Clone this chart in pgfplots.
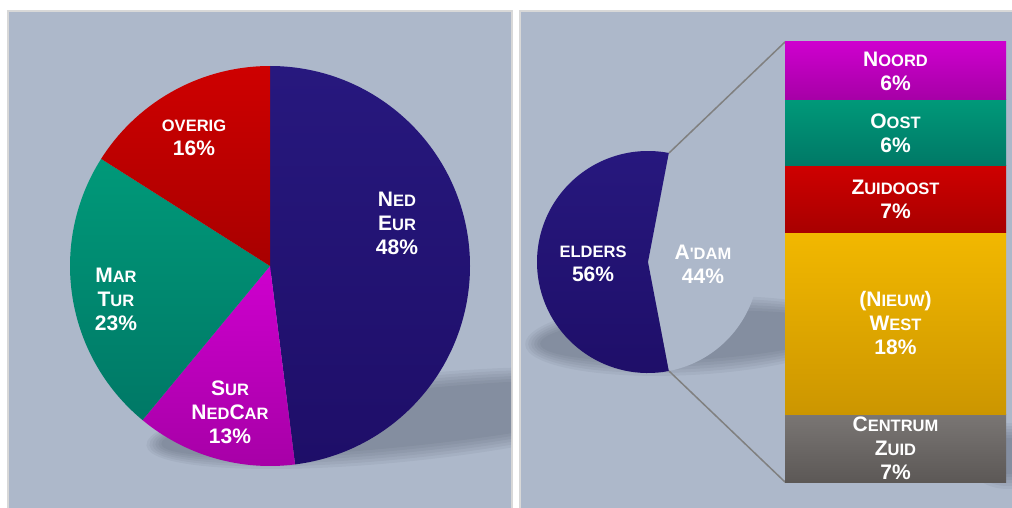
\documentclass[border=0pt]{standalone}
\usepackage{fontspec}
\setmainfont{Liberation Sans}
\usepackage{pgfplots}
\pgfplotsset{compat=1.18}

\definecolor{bg}{RGB}{173,184,202}
\definecolor{panelframe}{RGB}{216,216,216}
\definecolor{shadowc}{RGB}{60,68,82}
\definecolor{conn}{RGB}{128,128,128}
\definecolor{navyT}{RGB}{39,24,126}
\definecolor{navyB}{RGB}{30,14,104}
\definecolor{magT}{RGB}{206,0,206}
\definecolor{magB}{RGB}{166,0,166}
\definecolor{tealT}{RGB}{0,153,121}
\definecolor{tealB}{RGB}{0,120,102}
\definecolor{redT}{RGB}{206,0,0}
\definecolor{redB}{RGB}{168,0,0}
\definecolor{yelT}{RGB}{242,184,0}
\definecolor{yelB}{RGB}{204,150,0}
\definecolor{gryT}{RGB}{122,118,116}
\definecolor{gryB}{RGB}{92,88,86}

% small caps faked with a smaller size
\newcommand\smc[1]{{\fontsize{16.5}{24}\selectfont #1}}
% pie slice: base angle, cumulative %, value %, top colour, bottom colour, radius
\newcommand\slice[6]{\shade[top color=#4,bottom color=#5] (0,0) -- ({cos(#1-3.6*#2)},{sin(#1-3.6*#2)})
  arc[start angle={#1-3.6*#2}, end angle={#1-3.6*(#2+#3)}, radius=#6] -- cycle;}
% soft shadow: centre x, centre y (image px), x radius, y radius, rotation
\newcommand\softshadow[5]{\begin{scope}[shift={(#1pt,-#2pt)}, rotate=#5]
  \foreach \k in {0,...,5}
    \fill[shadowc, fill opacity=0.067] (0,0) ellipse [x radius={#3pt+3pt*\k}, y radius={#4pt+3pt*\k}];
  \end{scope}}

\tikzset{lbl/.style={text=white, align=center, inner sep=0pt,
  font=\fontsize{21}{24}\selectfont\bfseries}}

\begin{document}
\begin{tikzpicture}
\useasboundingbox (0,0) rectangle (1012pt,-508pt);
\fill[white] (0,0) rectangle (1012pt,-508pt);
\fill[bg, draw=panelframe, line width=2pt] (8pt,-11pt) rectangle (512pt,-512pt);
\fill[bg, draw=panelframe, line width=2pt] (520pt,-11pt) rectangle (1016pt,-512pt);

% shadows
\begin{scope}
  \clip (9pt,-12pt) rectangle (511pt,-508pt);
  \softshadow{410}{418}{250}{28}{6}
\end{scope}
\begin{scope}
  \clip (521pt,-12pt) rectangle (1012pt,-508pt);
  \softshadow{690}{336}{150}{24}{3}
  \softshadow{1008}{456}{28}{18}{0}
\end{scope}

% left pie
\begin{axis}[at={(270pt,-266pt)}, anchor=origin, scale only axis,
  width=400pt, height=400pt, xmin=-1, xmax=1, ymin=-1, ymax=1,
  hide axis, clip=false]
  \slice{90}{0}{48}{navyT}{navyB}{200pt}
  \slice{90}{48}{13}{magT}{magB}{200pt}
  \slice{90}{61}{23}{tealT}{tealB}{200pt}
  \slice{90}{84}{16}{redT}{redB}{200pt}
  \node[lbl] at (0.635,0.215) {N\smc{ED}\\E\smc{UR}\\48\%};
  \node[lbl] at (-0.38,0.64) {\smc{OVERIG}\\16\%};
  \node[lbl] at (-0.77,-0.165) {M\smc{AR}\\T\smc{UR}\\23\%};
  \node[lbl] at (-0.2,-0.73) {S\smc{UR}\\N\smc{ED}C\smc{AR}\\13\%};
\end{axis}

% right pie
\begin{axis}[at={(648pt,-262pt)}, anchor=origin, scale only axis,
  width=222pt, height=222pt, xmin=-1, xmax=1, ymin=-1, ymax=1,
  hide axis, clip=false]
  \slice{79.2}{0}{44}{bg}{bg}{111pt}
  \slice{79.2}{44}{56}{navyT}{navyB}{111pt}
  \node[lbl] at (-0.495,-0.018) {\smc{ELDERS}\\56\%};
  \node[lbl] at (0.495,-0.018) {A\smc{\textquotesingle DAM}\\44\%};
\end{axis}

\draw[conn, line width=1.5pt] (669pt,-153pt) -- (785pt,-42pt);
\draw[conn, line width=1.5pt] (669pt,-371pt) -- (785pt,-482pt);

% bar of A'dam
\begin{axis}[at={(785pt,-482pt)}, anchor=south west, scale only axis,
  width=221pt, height=440pt, xmin=-0.5, xmax=0.5, ymin=0, ymax=44,
  hide axis, clip=false, ybar stacked, reverse stacked plots=false,
  bar width=221pt]
  \addplot[draw=none, top color=gryT, bottom color=gryB] coordinates {(0,6.8)};
  \addplot[draw=none, top color=yelT, bottom color=yelB] coordinates {(0,18.2)};
  \addplot[draw=none, top color=redT, bottom color=redB] coordinates {(0,6.6)};
  \addplot[draw=none, top color=tealT, bottom color=tealB] coordinates {(0,6.6)};
  \addplot[draw=none, top color=magT, bottom color=magB] coordinates {(0,5.8)};
  \node[lbl] at (0,41.1) {N\smc{OORD}\\6\%};
  \node[lbl] at (0,34.9) {O\smc{OST}\\6\%};
  \node[lbl] at (0,28.3) {Z\smc{UIDOOST}\\7\%};
  \node[lbl] at (0,15.9) {(N\smc{IEUW})\\W\smc{EST}\\18\%};
  \node[lbl] at (0,3.4) {C\smc{ENTRUM}\\Z\smc{UID}\\7\%};
\end{axis}
\end{tikzpicture}
\end{document}
